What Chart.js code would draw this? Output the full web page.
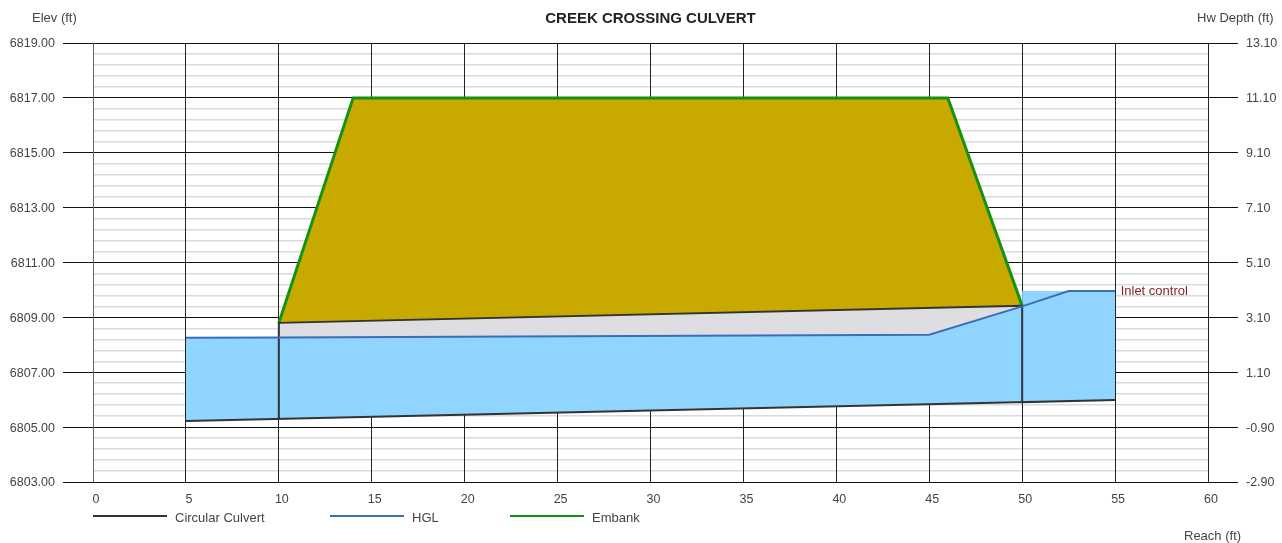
<!DOCTYPE html>
<html>
<head>
<meta charset="utf-8">
<title>Creek Crossing Culvert</title>
<script src="https://cdn.jsdelivr.net/npm/chart.js@4"></script>
<style>
  html, body { margin: 0; padding: 0; background: #fff; }
  #wrap { width: 1282px; height: 543px; }
</style>
</head>
<body>
<div id="wrap"><canvas id="culvertChart" width="1282" height="543"></canvas></div>
<script>
const hglX = [5, 10, 45, 50, 52.5, 55];
const hglY = [6808.26, 6808.27, 6808.37, 6809.40, 6809.96, 6809.96];

const embankX = [10, 14, 46, 50];
const embankY = [6808.80, 6817.00, 6817.00, 6809.42];

// outline walks the invert, both walls and the crown in one stroke
const culvertX = [5, 55, 50, 50, 10, 10];
const culvertY = [6805.22, 6805.99, 6805.91, 6809.42, 6808.80, 6805.30];

const crownX = [10, 50];
const crownY = [6808.80, 6809.42];

const waterTopX = [5, 10, 45, 50, 50, 55];
const waterTopY = [6808.26, 6808.27, 6808.37, 6809.40, 6809.96, 6809.96];
const waterBedX = [5, 55];
const waterBedY = [6805.22, 6805.99];

const legendNames = ['Circular Culvert', 'HGL', 'Embank'];

const FONT_FAMILY = '"Liberation Sans", Arial, sans-serif';
const LABEL_FONT = '13px ' + FONT_FAMILY;
const pts = (xs, ys) => xs.map((x, i) => ({ x: x, y: ys[i] }));
const isMajor = (v) => Math.abs((v - 6803) / 2 - Math.round((v - 6803) / 2)) < 1e-6;

const textPlugin = {
  id: 'culvertText',
  afterDraw(chart) {
    const c = chart.ctx;
    const { x, y } = chart.scales;
    c.save();
    c.font = LABEL_FONT;
    c.textBaseline = 'middle';
    c.fillStyle = '#444';
    c.fillText('Elev (ft)', 32, 18);
    c.fillText('Hw Depth (ft)', 1197, 18);
    c.fillText('Reach (ft)', 1184, 536);

    const keys = [[93, '#333333'], [330, '#3c6db8'], [510, '#129412']];
    keys.forEach(([left, color], i) => {
      c.strokeStyle = color;
      c.lineWidth = 2;
      c.beginPath();
      c.moveTo(left, 516);
      c.lineTo(left + 74, 516);
      c.stroke();
      c.fillStyle = '#444';
      c.fillText(legendNames[i], left + 82, 518);
    });

    c.fillStyle = '#8b2232';
    c.fillText('Inlet control', x.getPixelForValue(55.3), y.getPixelForValue(6809.93));
    c.restore();
  }
};

new Chart(document.getElementById('culvertChart'), {
  type: 'scatter',
  data: {
    datasets: [
      { label: 'HGL', data: pts(hglX, hglY), borderColor: '#3c6db8', borderWidth: 2 },
      { label: 'Circular Culvert', data: pts(culvertX, culvertY), borderColor: '#333333', borderWidth: 2 },
      { label: 'Embank', data: pts(embankX, embankY), borderColor: '#129412', borderWidth: 3,
        fill: { target: 3 }, backgroundColor: '#c8a900' },
      { label: 'crown', data: pts(crownX, crownY), borderWidth: 0,
        fill: { target: 0 }, backgroundColor: '#dedee2' },
      { label: 'water', data: pts(waterTopX, waterTopY), borderWidth: 0,
        fill: { target: 5 }, backgroundColor: '#90d5ff' },
      { label: 'bed', data: pts(waterBedX, waterBedY), borderWidth: 0 }
    ]
  },
  options: {
    responsive: false,
    animation: false,
    devicePixelRatio: 1,
    showLine: true,
    elements: { point: { radius: 0 }, line: { tension: 0 } },
    plugins: {
      legend: { display: false },
      tooltip: { enabled: false },
      title: {
        display: true,
        text: 'CREEK CROSSING CULVERT',
        fullSize: false,
        color: '#222',
        font: { family: FONT_FAMILY, size: 15, weight: 'bold' },
        padding: { top: 10, bottom: 15 }
      }
    },
    scales: {
      x: {
        type: 'linear',
        min: 0,
        max: 60,
        ticks: { stepSize: 5, color: '#444', padding: 10, labelOffset: 3,
          font: { family: FONT_FAMILY, size: 12.5 } },
        grid: {
          z: -1,
          color: (ctx) => ctx.tick.value === 0 ? '#666' : '#222',
          lineWidth: 1,
          drawTicks: false
        },
        border: { display: false },
        afterFit(s) { s.height = 61; }
      },
      y: {
        position: 'left',
        min: 6803,
        max: 6819,
        ticks: { stepSize: 0.4, autoSkip: false, color: '#444', padding: 8, labelOffset: 1,
          callback: (v) => isMajor(v) ? v.toFixed(2) : '',
          font: { family: FONT_FAMILY, size: 12.5 } },
        grid: {
          z: -2,
          tickLength: 30,
          color: (ctx) => isMajor(ctx.tick.value) ? '#111' : '#dadada',
          lineWidth: (ctx) => isMajor(ctx.tick.value) ? 1 : 1.5,
          tickColor: (ctx) => isMajor(ctx.tick.value) ? '#111' : 'rgba(0,0,0,0)'
        },
        border: { display: false },
        afterFit(s) { s.width = 93; }
      },
      y1: {
        position: 'right',
        min: -2.9,
        max: 13.1,
        ticks: { stepSize: 2, color: '#444', padding: 8, labelOffset: 1,
          callback: (v) => v.toFixed(2),
          font: { family: FONT_FAMILY, size: 12.5 } },
        grid: { drawOnChartArea: false, tickLength: 30, tickColor: '#111' },
        border: { display: false },
        afterFit(s) { s.width = 74; }
      }
    }
  },
  plugins: [textPlugin]
});
</script>
</body>
</html>
